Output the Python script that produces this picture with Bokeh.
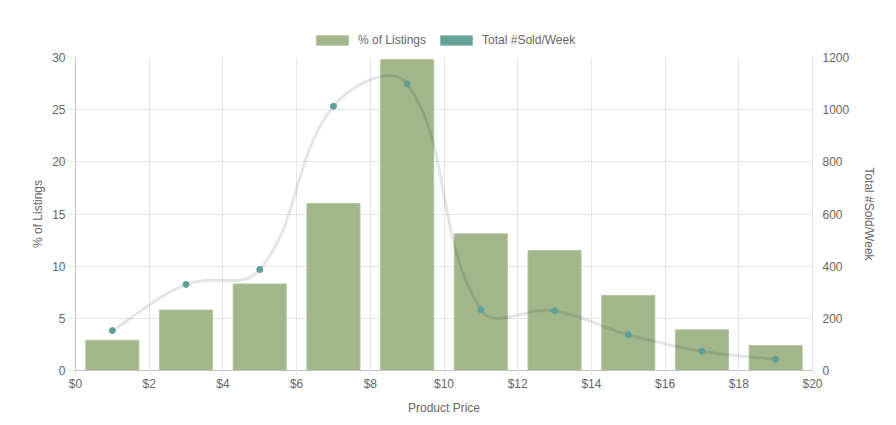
import math
from bokeh.plotting import figure
from bokeh.layouts import column
from bokeh.models import (Range1d, LinearAxis, FixedTicker, NumeralTickFormatter,
                          Legend, LegendItem, ColumnDataSource)
from bokeh.embed import file_html
from bokeh.resources import INLINE

# ---- data ----
price_mid = [1, 3, 5, 7, 9, 11, 13, 15, 17, 19]
pct_listings = [2.9, 5.8, 8.3, 16.0, 29.8, 13.1, 11.5, 7.2, 3.9, 2.4]
sold_per_week = [153, 330, 387, 1013, 1099, 233, 229, 137, 74, 43]
x_ticks = [0, 2, 4, 6, 8, 10, 12, 14, 16, 18, 20]
left_ticks = [0, 5, 10, 15, 20, 25, 30]
right_ticks = [0, 200, 400, 600, 800, 1000, 1200]

FONT = "Liberation Sans"
TXT = "#666666"
GRID = "#e6e6e6"
BAR = "#a1b78b"
BAR_EDGE = "#b3c6a0"
TEAL = "#5f9e96"
TEAL_BOX = "#63a197"
TEAL_EDGE = "#8fc0b8"

W = 880
LEG_H = 50
H = 367
ML, MR, MT, MB = 75, 68, 7, 46
FW, FH = W - ML - MR, H - MT - MB

# ---- legend strip (separate small figure so the legend is not clipped) ----
lf = figure(width=W, height=LEG_H, output_backend="svg", toolbar_location=None,
            x_range=Range1d(5000, 5001), y_range=Range1d(5000, 5001),
            x_axis_type=None, y_axis_type=None, outline_line_color=None,
            min_border=0)
lb = lf.vbar(x=price_mid, top=pct_listings, width=1.44, fill_color=BAR, line_color=BAR_EDGE)
ll = lf.vbar(x=price_mid, top=sold_per_week, width=1.44, fill_color=TEAL_BOX, line_color=TEAL_EDGE)
legend = Legend(items=[LegendItem(label="% of Listings", renderers=[lb]),
                       LegendItem(label="Total #Sold/Week", renderers=[ll])],
                orientation="horizontal", location=(237, 3),
                glyph_width=40, glyph_height=12, label_standoff=6, spacing=10,
                padding=0, margin=0, border_line_color=None, background_fill_alpha=0,
                label_text_font=FONT, label_text_font_size="12px", label_text_color=TXT,
                label_height=12)
lf.add_layout(legend)

# ---- main chart ----
p = figure(width=W, height=H, output_backend="svg", toolbar_location=None,
           x_range=Range1d(0, 20), y_range=Range1d(0, 30),
           min_border_left=ML, min_border_right=MR, min_border_top=MT, min_border_bottom=MB,
           outline_line_color=None)
p.extra_y_ranges = {"right": Range1d(0, 1200)}

p.xgrid.ticker = FixedTicker(ticks=x_ticks)
p.ygrid.ticker = FixedTicker(ticks=left_ticks)
for g in (p.xgrid, p.ygrid):
    g.grid_line_color = GRID
    g.grid_line_width = 1

p.vbar(x=price_mid, top=pct_listings, width=1.44, fill_color=BAR,
       line_color=BAR_EDGE, line_width=1)

# smooth line (Chart.js-like tension 0.4 spline)
sx, sy = FW / 20.0, FH / 1200.0
px = [v * sx for v in price_mid]
py = [v * sy for v in sold_per_week]
n = len(px)
cprev, cnext = [], []


def clamp(x, y):
    return (min(max(x, 0), FW), min(max(y, 0), FH))


for i in range(n):
    pr = (px[i - 1], py[i - 1]) if i > 0 else (px[i], py[i])
    nx = (px[i + 1], py[i + 1]) if i < n - 1 else (px[i], py[i])
    d01 = math.hypot(px[i] - pr[0], py[i] - pr[1])
    d12 = math.hypot(nx[0] - px[i], nx[1] - py[i])
    tot = d01 + d12
    s01 = d01 / tot if tot else 0
    s12 = d12 / tot if tot else 0
    fa, fb = 0.4 * s01, 0.4 * s12
    cprev.append(clamp(px[i] - fa * (nx[0] - pr[0]), py[i] - fa * (nx[1] - pr[1])))
    cnext.append(clamp(px[i] + fb * (nx[0] - pr[0]), py[i] + fb * (nx[1] - pr[1])))

bz = ColumnDataSource(dict(
    x0=[px[i] / sx for i in range(n - 1)], y0=[py[i] / sy for i in range(n - 1)],
    x1=[px[i + 1] / sx for i in range(n - 1)], y1=[py[i + 1] / sy for i in range(n - 1)],
    cx0=[cnext[i][0] / sx for i in range(n - 1)], cy0=[cnext[i][1] / sy for i in range(n - 1)],
    cx1=[cprev[i + 1][0] / sx for i in range(n - 1)], cy1=[cprev[i + 1][1] / sy for i in range(n - 1)],
))
p.bezier(x0="x0", y0="y0", x1="x1", y1="y1", cx0="cx0", cy0="cy0", cx1="cx1", cy1="cy1",
         source=bz, line_color="black", line_alpha=0.1, line_width=3, y_range_name="right")
p.scatter(price_mid, sold_per_week, size=6, fill_color=TEAL, line_color=TEAL,
          y_range_name="right")


def style_axis(ax):
    ax.major_label_text_font = FONT
    ax.major_label_text_font_size = "12px"
    ax.major_label_text_color = TXT
    ax.axis_label_text_font = FONT
    ax.axis_label_text_font_size = "12px"
    ax.axis_label_text_color = TXT
    ax.axis_label_text_font_style = "normal"
    ax.minor_tick_line_color = None
    ax.major_tick_in = 0
    ax.major_tick_line_color = GRID
    ax.axis_line_color = "#c4c4c4"


xa = p.xaxis[0]
xa.ticker = FixedTicker(ticks=x_ticks)
xa.formatter = NumeralTickFormatter(format="$0")
xa.axis_label = "Product Price"
style_axis(xa)
xa.major_tick_out = 4
xa.major_label_standoff = 2
xa.axis_label_standoff = 7

ya = p.yaxis[0]
ya.ticker = FixedTicker(ticks=left_ticks)
ya.axis_label = "% of Listings"
style_axis(ya)
ya.major_tick_out = 8
ya.major_label_standoff = 2
ya.axis_label_standoff = 4

ra = LinearAxis(y_range_name="right", axis_label="Total #Sold/Week",
                ticker=FixedTicker(ticks=right_ticks))
style_axis(ra)
ra.major_tick_out = 0
ra.major_label_standoff = 10
ra.axis_label_standoff = 10
ra.axis_line_color = GRID
p.add_layout(ra, "right")

layout = column(lf, p, spacing=0)
open("out.html", "w").write(file_html(layout, INLINE))
